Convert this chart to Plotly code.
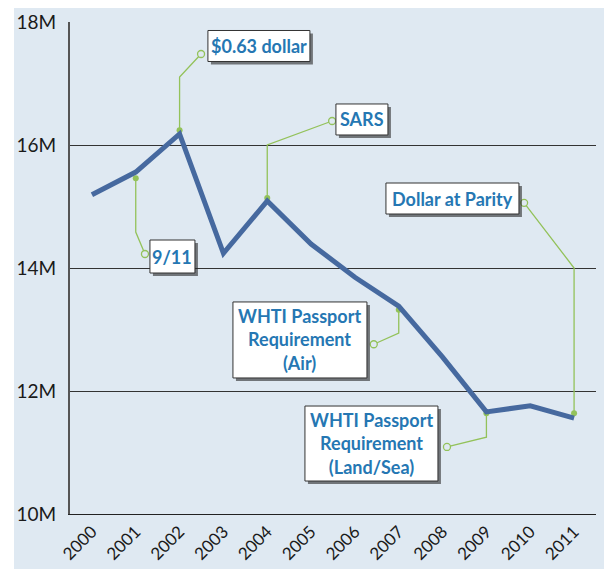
import plotly.graph_objects as go

# ---- data ----
years = [2000, 2001, 2002, 2003, 2004, 2005, 2006, 2007, 2008, 2009, 2010, 2011]
visitors_m = [15.19, 15.56, 16.18, 14.24, 15.09, 14.39, 13.85, 13.38, 12.55, 11.66, 11.76, 11.56]
y_ticks = [10, 12, 14, 16, 18]
y_tick_labels = ["10M", "12M", "14M", "16M", "18M"]

# events: label, label-centre (x, y), callout path [point -> elbow -> label end]
event_labels = ["9/11", "$0.63 dollar", "SARS", "Dollar at Parity",
                "WHTI Passport<br>Requirement<br>(Air)",
                "WHTI Passport<br>Requirement<br>(Land/Sea)"]
event_label_x = [2001.837, 2003.81, 2006.16, 2008.225, 2004.746, 2006.377]
event_label_y = [14.187, 17.61, 16.415, 15.13, 12.83, 11.146]
event_box_w = [45, 102, 52, 133, 134, 133]
event_box_h = [33, 31, 31, 31, 76, 75]
callout_x = [[2001, 2001, 2001.21], [2002, 2002, 2002.49], [2004, 2004, 2005.48],
             [2011, 2011, 2009.86], [2007, 2007, 2006.43], [2009, 2009, 2008.1]]
callout_y = [[15.46, 14.585, 14.228], [16.24, 17.106, 17.48], [15.14, 16.0, 16.39],
             [11.64, 14.0, 15.06], [13.32, 12.94, 12.76], [11.64, 11.25, 11.09]]

LINE = "#46699f"
GREEN = "#93c25a"
TEXT_BLUE = "#2577b3"
PANEL = "#dfe9f2"

fig = go.Figure()

# callouts
for cx, cy in zip(callout_x, callout_y):
    fig.add_trace(go.Scatter(x=cx, y=cy, mode="lines", line=dict(color=GREEN, width=1.3),
                             hoverinfo="skip", showlegend=False, cliponaxis=False))
    fig.add_trace(go.Scatter(x=[cx[0]], y=[cy[0]], mode="markers",
                             marker=dict(color=GREEN, size=6), hoverinfo="skip",
                             showlegend=False, cliponaxis=False))
    fig.add_trace(go.Scatter(x=[cx[-1]], y=[cy[-1]], mode="markers",
                             marker=dict(color=PANEL, size=7, line=dict(color=GREEN, width=1.3)),
                             hoverinfo="skip", showlegend=False, cliponaxis=False))

# main line
fig.add_trace(go.Scatter(x=years, y=visitors_m, mode="lines",
                         line=dict(color=LINE, width=5), showlegend=False,
                         hovertemplate="%{x}: %{y:.2f}M<extra></extra>"))

shapes = [dict(type="rect", xref="paper", yref="paper", layer="below",
               x0=(14 - 70) / 526, x1=(604 - 70) / 526,
               y0=(514 - 569) / 492, y1=(514 - 8) / 492,
               fillcolor=PANEL, line=dict(width=0))]
annotations = []
for lab, lx, ly, w, h in zip(event_labels, event_label_x, event_label_y, event_box_w, event_box_h):
    # drop shadow
    shapes.append(dict(type="rect", xref="x", yref="y", layer="above",
                       xsizemode="pixel", ysizemode="pixel", xanchor=lx, yanchor=ly,
                       x0=-w / 2 + 3, x1=w / 2 + 3, y0=-h / 2 - 3, y1=h / 2 - 3,
                       fillcolor="rgba(40,40,40,0.6)", line=dict(width=0)))
    # white box
    shapes.append(dict(type="rect", xref="x", yref="y", layer="above",
                       xsizemode="pixel", ysizemode="pixel", xanchor=lx, yanchor=ly,
                       x0=-w / 2, x1=w / 2, y0=-h / 2, y1=h / 2,
                       fillcolor="white", line=dict(color="#333333", width=1)))
    annotations.append(dict(text="<b>" + lab + "</b>", x=lx, y=ly, xref="x", yref="y",
                            showarrow=False, xanchor="center", yanchor="middle",
                            align="center",
                            font=dict(family="Lato", size=18, color=TEXT_BLUE)))

fig.update_layout(
    width=609, height=569,
    margin=dict(l=70, r=13, t=22, b=55),
    paper_bgcolor="white", plot_bgcolor="rgba(0,0,0,0)",
    font=dict(family="Lato", color="#1a1a1a"),
    annotations=annotations,
    shapes=shapes,
    hovermode=False,
    xaxis=dict(range=[1999.5, 2011.5], tickvals=years, ticktext=[str(y) for y in years],
               tickangle=-45, showgrid=False, zeroline=False, automargin=False,
               showline=True, linecolor="#222222", linewidth=1.2,
               tickfont=dict(size=17, color="#1a1a1a"), ticks=""),
    yaxis=dict(range=[10, 18], tickvals=y_ticks, ticktext=y_tick_labels,
               showgrid=True, gridcolor="#333333", gridwidth=1.1, zeroline=False,
               automargin=False,
               showline=True, linecolor="#555555", linewidth=2,
               tickfont=dict(size=19, color="#1a1a1a"), ticks="",
               ticklabelstandoff=8),
)

fig.write_html("out.html", config={"displayModeBar": False},
               post_script="document.body.style.margin='0';document.body.style.overflow='hidden';")
